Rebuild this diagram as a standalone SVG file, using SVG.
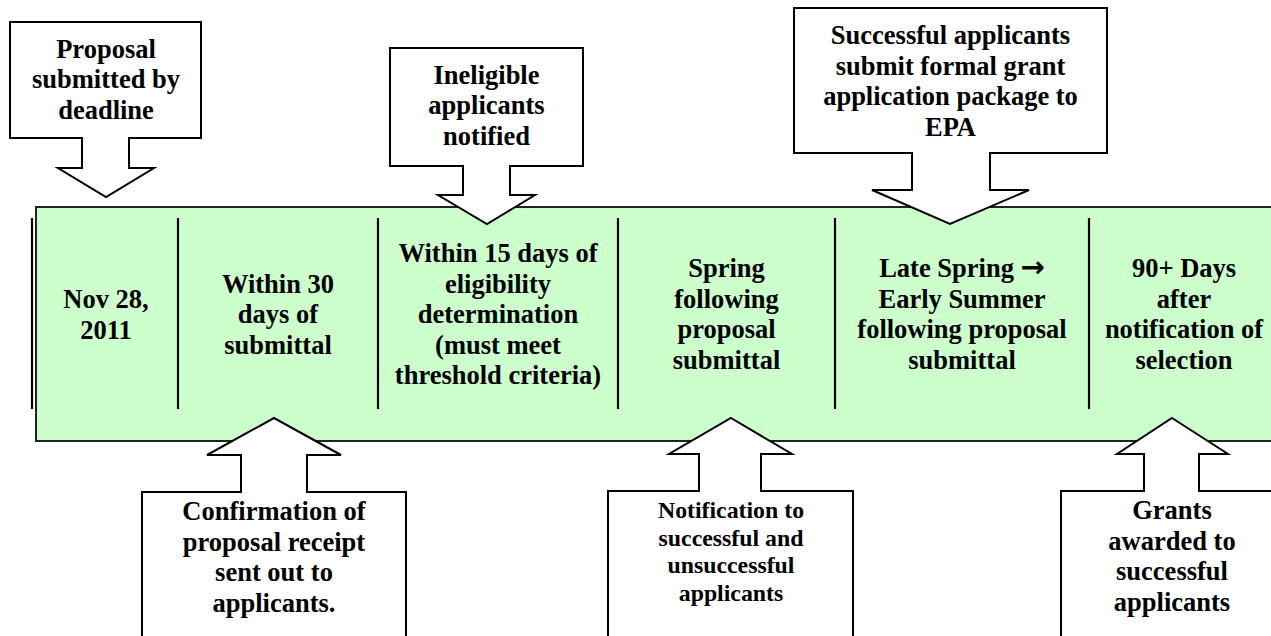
<svg xmlns="http://www.w3.org/2000/svg" width="1271" height="636" viewBox="0 0 1271 636">
<style>
  .band { fill: #CCFFCC; stroke: #222; stroke-width: 2; }
  .div { stroke: #000; stroke-width: 2.2; }
  .call { fill: #fff; stroke: #000; stroke-width: 2; stroke-linejoin: miter; }
  text { font-family: "Liberation Serif", "Times New Roman", serif; font-weight: bold; fill: #000; text-anchor: middle; }
  .t { font-size: 26.5px; }
  .s { font-size: 23.8px; }
  .arw { font-family: "DejaVu Sans", sans-serif; font-size: 29px; }
</style>
<rect width="1271" height="636" fill="#fff"/>
<g id="timeline">
  <rect class="band" x="36" y="207" width="1250" height="234"/>
  <line class="div" x1="32" y1="218" x2="32" y2="409"/>
  <line class="div" x1="178" y1="218" x2="178" y2="409"/>
  <line class="div" x1="378" y1="218" x2="378" y2="409"/>
  <line class="div" x1="618" y1="218" x2="618" y2="409"/>
  <line class="div" x1="835" y1="218" x2="835" y2="409"/>
  <line class="div" x1="1089" y1="218" x2="1089" y2="409"/>
</g>
<g id="cell1">
  <text class="t" x="106" y="308">Nov 28,</text>
  <text class="t" x="106" y="338.5">2011</text>
</g>
<g id="cell2">
  <text class="t" x="278" y="293">Within 30</text>
  <text class="t" x="278" y="323">days of</text>
  <text class="t" x="278" y="353.5">submittal</text>
</g>
<g id="cell3">
  <text class="t" x="498" y="262">Within 15 days of</text>
  <text class="t" x="498" y="292.5">eligibility</text>
  <text class="t" x="498" y="323">determination</text>
  <text class="t" x="498" y="353.5">(must meet</text>
  <text class="t" x="498" y="384">threshold criteria)</text>
</g>
<g id="cell4">
  <text class="t" x="726.5" y="277">Spring</text>
  <text class="t" x="726.5" y="307.5">following</text>
  <text class="t" x="726.5" y="338">proposal</text>
  <text class="t" x="726.5" y="368.5">submittal</text>
</g>
<g id="cell5">
  <text class="t" x="962" y="277">Late Spring <tspan class="arw">→</tspan></text>
  <text class="t" x="962" y="307.5">Early Summer</text>
  <text class="t" x="962" y="338">following proposal</text>
  <text class="t" x="962" y="368.5">submittal</text>
</g>
<g id="cell6">
  <text class="t" x="1184" y="277">90+ Days</text>
  <text class="t" x="1184" y="307.5">after</text>
  <text class="t" x="1184" y="338">notification of</text>
  <text class="t" x="1184" y="368.5">selection</text>
</g>
<g id="connectors"></g>
<g id="callout-proposal">
  <polygon class="call" points="10,22 201,22 201,138 129,138 129,168 154,168 106,197 58,168 82,168 82,138 10,138"/>
  <text class="t" x="106" y="57.5">Proposal</text>
  <text class="t" x="106" y="88">submitted by</text>
  <text class="t" x="106" y="118.5">deadline</text>
</g>
<g id="callout-ineligible">
  <polygon class="call" points="390,48 583,48 583,166 510,166 510,195 535,195 487,224 438,195 463,195 463,166 390,166"/>
  <text class="t" x="486.5" y="83.5">Ineligible</text>
  <text class="t" x="486.5" y="114">applicants</text>
  <text class="t" x="486.5" y="144.5">notified</text>
</g>
<g id="callout-formal">
  <polygon class="call" points="794,8 1107,8 1107,153 990,153 990,190 1029,190 950,224 872,190 912,190 912,153 794,153"/>
  <text class="t" x="950.5" y="44">Successful applicants</text>
  <text class="t" x="950.5" y="74.5">submit formal grant</text>
  <text class="t" x="950.5" y="105">application package to</text>
  <text class="t" x="950.5" y="135.5">EPA</text>
</g>
<g id="callout-confirmation">
  <polygon class="call" points="274,418 341,455 307,455 307,492 406,492 406,645 142,645 142,492 241,492 241,455 207,455"/>
  <text class="t" x="274" y="520">Confirmation of</text>
  <text class="t" x="274" y="550.5">proposal receipt</text>
  <text class="t" x="274" y="581">sent out to</text>
  <text class="t" x="274" y="611.5">applicants.</text>
</g>
<g id="callout-notification">
  <polygon class="call" points="731,418 792,454 761,454 761,491 853,491 853,645 608,645 608,491 699,491 699,454 669,454"/>
  <text class="s" x="731" y="518">Notification to</text>
  <text class="s" x="731" y="545.5">successful and</text>
  <text class="s" x="731" y="573">unsuccessful</text>
  <text class="s" x="731" y="600.5">applicants</text>
</g>
<g id="callout-grants">
  <polygon class="call" points="1172,418 1228,454 1199,454 1199,491 1280,491 1280,645 1061,645 1061,491 1144,491 1144,454 1117,454"/>
  <text class="t" x="1172" y="519">Grants</text>
  <text class="t" x="1172" y="549.5">awarded to</text>
  <text class="t" x="1172" y="580">successful</text>
  <text class="t" x="1172" y="610.5">applicants</text>
</g>
</svg>
